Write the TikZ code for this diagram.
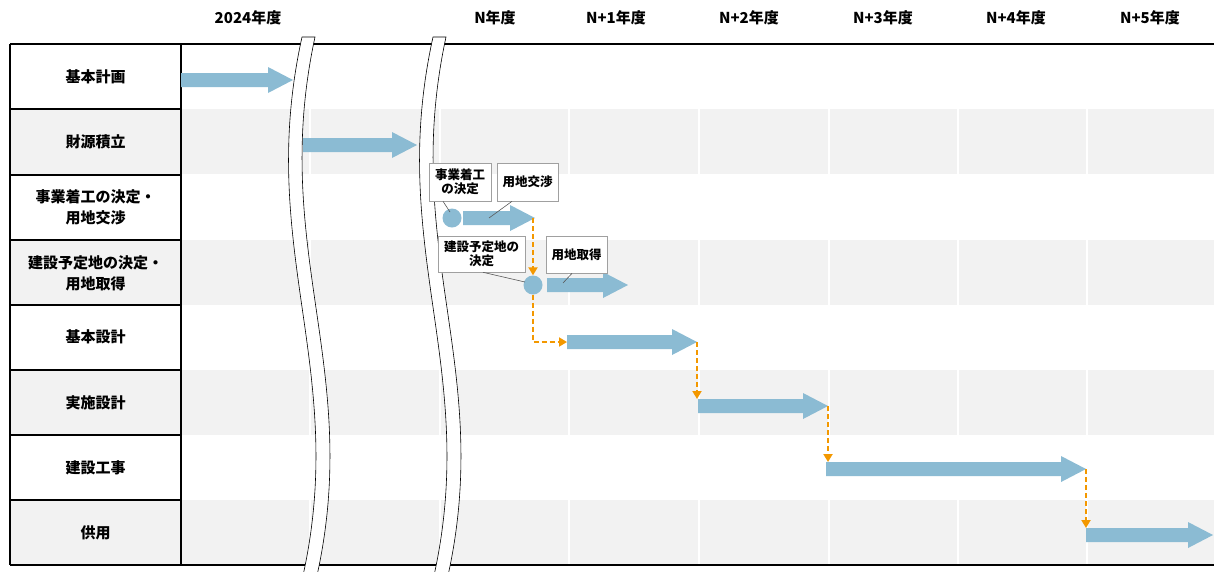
\documentclass[tikz,border=0pt]{standalone}
\usepackage{fontspec}
\setmainfont{Noto Sans CJK JP}
\usetikzlibrary{arrows.meta,calc}
\definecolor{barblue}{RGB}{139,187,211}
\definecolor{rowgray}{RGB}{242,242,242}
\definecolor{linkorange}{RGB}{243,152,0}
\definecolor{leadgray}{RGB}{90,90,90}
\definecolor{boxgray}{RGB}{160,160,160}
\newcommand\blockarrow[4]{% name, x start, x tip, y
  \coordinate (#1s) at (#2,#4);
  \coordinate (#1t) at (#3,#4);
  \coordinate (#1top) at (#2,{#4-7});
  \fill[bar] (#2,{#4-7}) -- ({#3-25},{#4-7}) -- ({#3-25},{#4-13}) -- (#3,#4)
    -- ({#3-25},{#4+13}) -- ({#3-25},{#4+7}) -- (#2,{#4+7}) -- cycle;}
\newcommand\breakband[1]{% x shift
  \begin{scope}[xshift=#1]
  \fill[white] (302,37) .. controls (255,250) and (350,370) .. (302,580)
    -- (316,580) .. controls (364,370) and (269,250) .. (315,37) -- cycle;
  \draw[band] (302,580) .. controls (350,370) and (255,250) .. (302,37)
    -- (315,37) .. controls (269,250) and (364,370) .. (316,580);
  \end{scope}}
\tikzset{
  bar/.style={fill=barblue},
  band/.style={draw=black,line width=0.6},
  tline/.style={draw=black,line width=1.3},
  grid/.style={draw=white,line width=1.5},
  head/.style={font=\fontsize{15}{17}\selectfont\bfseries,anchor=center},
  rowlab/.style={font=\fontsize{15}{21}\selectfont\bfseries,align=center,anchor=center},
  callout/.style={draw=boxgray,fill=white,line width=0.6,font=\fontsize{12.5}{14}\selectfont\bfseries,align=center,inner sep=0pt},
  leader/.style={draw=leadgray,line width=0.6},
  dot/.style={circle,fill=barblue,minimum size=19,inner sep=0pt},
  link/.style={draw=linkorange,line width=1.9,dash pattern=on 5pt off 3pt,-{Triangle[length=8,width=9]}},
}
\begin{document}
\begin{tikzpicture}[x=1pt,y=-1pt]
\useasboundingbox (0,0) rectangle (1214,571);
% row shading
\foreach \y in {109,240,370,500} \fill[rowgray] (10,\y) rectangle (1214,{\y+65});
% white grid lines
\foreach \x in {310,440,569,699,829,958,1087} \draw[grid] (\x,44) -- (\x,565);
% table lines
\draw[tline] (10,44) -- (1214,44);
\draw[tline] (10,565) -- (1214,565);
\draw[tline] (10,44) -- (10,565);
\draw[tline] (181,44) -- (181,565);
\foreach \y in {109,175,240,305,370,435,500} \draw[tline] (10,\y) -- (181,\y);
% headers
\node[head] (h0) at (248,18) {2024年度};
\node[head] (h1) at (495,18) {N年度};
\node[head] (h2) at (616,18) {N+1年度};
\node[head] (h3) at (749,18) {N+2年度};
\node[head] (h4) at (883,18) {N+3年度};
\node[head] (h5) at (1016,18) {N+4年度};
\node[head] (h6) at (1150,18) {N+5年度};
% row labels
\node[rowlab] (r1) at (95.5,77) {基本計画};
\node[rowlab] (r2) at (95.5,142) {財源積立};
\node[rowlab] (r3) at (95.5,207) {事業着工の決定・\\用地交渉};
\node[rowlab] (r4) at (95.5,273) {建設予定地の決定・\\用地取得};
\node[rowlab] (r5) at (95.5,337) {基本設計};
\node[rowlab] (r6) at (95.5,403) {実施設計};
\node[rowlab] (r7) at (95.5,468) {建設工事};
\node[rowlab] (r8) at (95.5,533) {供用};
% break bands
\breakband{0}
\breakband{131}
% bars
\blockarrow{a1}{181}{293}{80}
\blockarrow{a2}{303}{417}{145}
\blockarrow{a3}{463}{535}{218}
\blockarrow{a4}{547}{628}{285}
\blockarrow{a5}{567}{697}{342}
\blockarrow{a6}{698}{828}{406}
\blockarrow{a7}{826}{1086}{469}
\blockarrow{a8}{1086}{1213}{535}
% milestones
\node[dot] (c1) at (452,218) {};
\node[dot] (c2) at (533,285) {};
% callouts
\node[callout,minimum width=62,minimum height=38] (b1) at (460,182) {事業着工\\の決定};
\node[callout,minimum width=61,minimum height=38] (b2) at (527.5,182) {用地交渉};
\node[callout,minimum width=87,minimum height=36] (b3) at (481.5,254) {建設予定地の\\決定};
\node[callout,minimum width=61,minimum height=37] (b4) at (576.5,254.5) {用地取得};
\draw[leader] ([xshift=-17]b1.south) -- ([shift={(-2,-6)}]c1.center);
\draw[leader] ([xshift=-15.5]b2.south) -- ([xshift=26]a3s);
\draw[leader] ([xshift=1.5]b3.south) -- ([shift={(-8,-3)}]c2.center);
\draw[leader] ([xshift=-4.5]b4.south) -- ([shift={(16,-2)}]a4s);
% dependency links
\draw[link] (c2.north |- a3t) -- (c2.north);
\draw[link] (c2.south) |- (a5s);
\draw[link] (a5t) -- (a5t |- a6top);
\draw[link] (a6t) -- (a6t |- a7top);
\draw[link] (a7t) -- (a7t |- a8top);
\end{tikzpicture}
\end{document}
